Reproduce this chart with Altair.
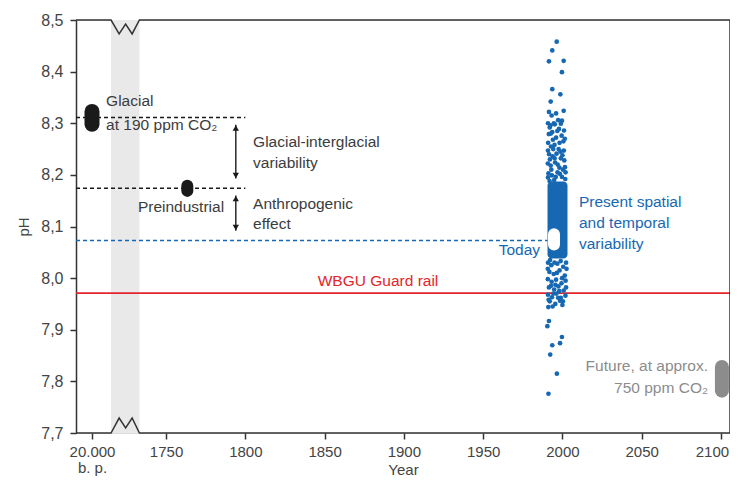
import altair as alt
import pandas as pd

FONT = "Liberation Sans"
DARK = "#333333"
TEXT = "#3c3c3c"
BLUE = "#1668b3"
RED = "#e3242b"
GREY = "#8c8c8c"

# ---- scales ----
YEAR_MIN, YEAR_MAX = 1693.2, 2105.7
PH_MIN, PH_MAX = 7.7, 8.5
BP_POS = 1703.3  # position of the "20.000 b. p." tick

x_ticks = [BP_POS, 1750, 1800, 1850, 1900, 1950, 2000, 2050, 2100]
y_ticks = [7.7, 7.8, 7.9, 8.0, 8.1, 8.2, 8.3, 8.4, 8.5]

# ---- axis break ----
band_years = [1715.3, 1733.2]
edge_years = [YEAR_MIN, 1715.3, 1720.4, 1724.5, 1728.6, 1733.2, YEAR_MAX]
top_edge_ph = [8.5, 8.5, 8.473, 8.492, 8.473, 8.5, 8.5]
bottom_edge_ph = [7.7, 7.7, 7.729, 7.710, 7.729, 7.7, 7.7]

# ---- reference levels ----
glacial_ph = 8.311
preindustrial_ph = 8.174
today_ph = 8.073
guardrail_ph = 7.971
dash_end_year = 1800
today_line_end = 1990.6

# ---- markers (capsules): year, pH from, pH to, width, colour ----
capsule_names = ["glacial", "preindustrial", "today", "future"]
capsule_years = [1703.3, 1763.4, 1994.7, 2100.6]
capsule_lo = [8.298, 8.169, 8.065, 7.782]
capsule_hi = [8.323, 8.179, 8.085, 7.828]
capsule_width = [15, 12, 12, 14]
capsule_color = ["#1a1a1a", "#1a1a1a", "#ffffff", GREY]

# ---- double arrows ----
arrow_year = 1794
arrow_top = [8.297, 8.160]
arrow_bottom = [8.193, 8.092]

# ---- present variability: dense core + individual observations ----
core_years = [1990.6, 2003.2]
core_ph = [8.038, 8.187]

present_years = [
    1996.4, 1993.6, 1991.5, 2000.8, 1999.7, 1993.6, 1998.7, 1992.6, 1991.5, 2000.8, 1999.7,
    1990.9, 1992.5, 1995.2, 1997.8, 2001.0, 1991.4, 1993.6, 1996.0, 1999.5, 2000.6,
    1991.0, 1992.8, 1995.0, 1997.6, 2000.9, 1991.6, 1993.9, 1996.3, 1999.0, 2001.2,
    1990.8, 1992.6, 1995.4, 1998.1, 2000.4, 1991.2, 1993.4, 1996.9, 1999.7, 2001.8,
    1994.8, 1991.9,
    1992.0, 1996.8, 1999.0, 1994.0, 1998.2, 2001.5, 1990.9, 1994.2, 1998.8, 1992.1,
    1995.1, 2000.0, 1993.0, 1997.0, 2001.6, 1990.9, 1995.8, 1998.4, 2002.0, 1992.7,
    1994.6, 1997.3, 1993.2, 1996.0,
    1990.9, 1993.0, 1996.8, 2000.5, 2002.3, 1991.8, 1994.5, 1998.2, 2001.5,
    1990.8, 1993.2, 1996.0, 1999.4, 2002.0, 1991.5, 1994.8, 1997.5, 2000.8,
    1990.9, 1993.4, 1996.2, 1999.0, 2001.9, 1992.0, 1995.5, 1998.5,
    1992.2, 1995.0, 1998.9, 2002.6, 1990.8, 1996.5, 1999.8, 1992.8, 1995.6, 2002.3,
    1998.0, 1991.3, 1994.3, 2000.3, 1997.3, 1993.8, 2000.0,
    1991.1, 1991.5, 1990.5, 1999.7, 1998.5, 1993.6, 1992.3, 1996.5, 1991.2,
]
present_ph = [
    8.458, 8.441, 8.420, 8.421, 8.399, 8.366, 8.356, 8.342, 8.322, 8.324, 8.305,
    8.300, 8.296, 8.298, 8.289, 8.286, 8.279, 8.283, 8.272, 8.276, 8.265,
    8.262, 8.255, 8.258, 8.250, 8.247, 8.240, 8.236, 8.241, 8.232, 8.228,
    8.222, 8.218, 8.224, 8.214, 8.210, 8.203, 8.199, 8.205, 8.196, 8.192,
    8.190, 8.188,
    8.292, 8.285, 8.299, 8.268, 8.262, 8.270, 8.247, 8.250, 8.245, 8.230,
    8.232, 8.238, 8.210, 8.220, 8.215, 8.195, 8.196, 8.202, 8.205, 8.280,
    8.300, 8.306, 8.315, 8.319,
    8.030, 8.025, 8.028, 8.022, 8.030, 8.012, 8.008, 8.015, 8.005,
    7.998, 7.993, 7.997, 7.990, 7.995, 7.982, 7.978, 7.984, 7.976,
    7.968, 7.963, 7.970, 7.962, 7.966, 7.955, 7.950, 7.956,
    8.035, 8.030, 8.033, 8.018, 8.018, 8.010, 8.000, 7.985, 7.987, 7.982,
    7.975, 7.958, 7.970, 7.955, 7.962, 7.945, 7.948,
    7.944, 7.917, 7.907, 7.886, 7.874, 7.870, 7.852, 7.815, 7.776,
]

# ---- annotations ----
label_text = [
    "Glacial", "at 190 ppm CO\u2082",
    "Glacial-interglacial", "variability", "Anthropogenic", "effect",
    "Present spatial", "and temporal", "variability",
    "Preindustrial", "Today", "Future, at approx.", "750 ppm CO\u2082",
    "WBGU Guard rail",
]
label_year = [1712.2, 1712.2, 1804.9, 1804.9, 1804.9, 1804.9, 2010.4, 2010.4, 2010.4,
              1786.6, 1985.9, 2091.8, 2091.8, 1883.7]
label_ph = [8.343, 8.297, 8.264, 8.223, 8.144, 8.104, 8.148, 8.106, 8.066,
            8.137, 8.054, 7.830, 7.788, 7.994]
label_align = ["left"] * 9 + ["right"] * 4 + ["center"]
label_color = [TEXT] * 6 + [BLUE] * 3 + [TEXT, BLUE, GREY, GREY, RED]

# ---------------------------------------------------------------------------
PLOT_W, PLOT_H = 654, 413

xscale = alt.Scale(domain=[YEAR_MIN, YEAR_MAX], nice=False, zero=False)
yscale = alt.Scale(domain=[PH_MIN, PH_MAX], nice=False, zero=False)

xaxis = alt.Axis(
    values=x_ticks, title="Year", grid=False, domain=False,
    labelExpr="datum.value < 1710 ? ['20.000', 'b. p.'] : format(datum.value, 'd')",
    tickSize=6, tickWidth=1.5, tickColor=DARK, labelPadding=5,
    labelFont=FONT, labelFontSize=15, labelColor="#444444", labelLineHeight=16.5,
    labelOffset={"condition": {"test": "datum.value == 2100", "value": -9}, "value": 0},
    labelFlush=False, labelOverlap=False,
    titleFont=FONT, titleFontSize=15, titleFontWeight="normal", titleColor="#444444",
    titleY=41, titleBaseline="alphabetic",
)
yaxis = alt.Axis(
    values=y_ticks, title="pH", grid=False, domain=True, domainColor=DARK, domainWidth=1.5,
    labelExpr="replace(format(datum.value, '.1f'), '.', ',')",
    tickSize=6, tickWidth=1.5, tickColor=DARK, labelPadding=7,
    labelFont=FONT, labelFontSize=16, labelColor="#444444", labelFlush=False,
    labelOverlap=False,
    titleFont=FONT, titleFontSize=15, titleFontWeight="normal", titleColor="#444444",
    titleX=-53, titleY=PLOT_H / 2, titleBaseline="middle", titleAlign="center", titleAngle=-90,
)


def X(field="x"):
    return alt.X(field, type="quantitative", scale=xscale, axis=xaxis)


def Y(field="y"):
    return alt.Y(field, type="quantitative", scale=yscale, axis=yaxis)


band_df = pd.DataFrame({"x": [band_years[0]], "x2": [band_years[1]], "y": [PH_MIN], "y2": [PH_MAX]})
band = alt.Chart(band_df).mark_rect(color="#e9e9e9").encode(
    x=X(), x2="x2", y=Y(), y2="y2")


def hline(level, end, color, dash=None, width=1.5):
    df = pd.DataFrame({"x": [YEAR_MIN], "x2": [end], "y": [level]})
    kw = dict(color=color, strokeWidth=width)
    if dash:
        kw["strokeDash"] = dash
    return alt.Chart(df).mark_rule(**kw).encode(x=X(), x2="x2", y=Y())


glacial_line = hline(glacial_ph, dash_end_year, "#1a1a1a", [4, 3])
pre_line = hline(preindustrial_ph, dash_end_year, "#1a1a1a", [4, 3])
today_line = hline(today_ph, today_line_end, BLUE, [4, 3])
red_line = hline(guardrail_ph, YEAR_MAX, RED, None, 1.6)

edges_df = pd.DataFrame({
    "x": edge_years * 2,
    "y": top_edge_ph + bottom_edge_ph,
    "side": ["top"] * len(edge_years) + ["bottom"] * len(edge_years),
})
edges = alt.Chart(edges_df).mark_line(color=DARK, strokeWidth=1.5, strokeJoin="miter").encode(
    x=X(), y=Y(), detail="side:N")

right_edge = alt.Chart(pd.DataFrame({"x": [YEAR_MAX], "y": [PH_MIN], "y2": [PH_MAX]})).mark_rule(
    color=DARK, strokeWidth=1.5).encode(x=X(), y=Y(), y2="y2")

core_df = pd.DataFrame({"x": [core_years[0]], "x2": [core_years[1]], "y": [core_ph[0]], "y2": [core_ph[1]]})
core = alt.Chart(core_df).mark_rect(color=BLUE, cornerRadius=4).encode(
    x=X(), x2="x2", y=Y(), y2="y2")

pts_df = pd.DataFrame({"x": present_years, "y": present_ph})
pts = alt.Chart(pts_df).mark_circle(color=BLUE, size=22, opacity=1).encode(x=X(), y=Y())

caps = []
for i in range(len(capsule_names)):
    df = pd.DataFrame({"x": [capsule_years[i]], "y": [capsule_lo[i]], "y2": [capsule_hi[i]]})
    caps.append(alt.Chart(df).mark_rule(
        color=capsule_color[i], strokeWidth=capsule_width[i], strokeCap="round").encode(
        x=X(), y=Y(), y2="y2"))

arr_df = pd.DataFrame({"x": [arrow_year] * 2, "y": arrow_bottom, "y2": arrow_top})
arr_rules = alt.Chart(arr_df).mark_rule(color="#1a1a1a", strokeWidth=1.4).encode(
    x=X(), y=Y(), y2="y2")
up_df = pd.DataFrame({"x": [arrow_year] * 2, "y": [t - 0.006 for t in arrow_top]})
down_df = pd.DataFrame({"x": [arrow_year] * 2, "y": [b + 0.006 for b in arrow_bottom]})
heads_up = alt.Chart(up_df).mark_point(shape="triangle-up", filled=True, color="#1a1a1a",
                                       size=40, opacity=1).encode(x=X(), y=Y())
heads_down = alt.Chart(down_df).mark_point(shape="triangle-down", filled=True, color="#1a1a1a",
                                           size=40, opacity=1).encode(x=X(), y=Y())

lab_df = pd.DataFrame({"x": label_year, "y": label_ph, "text": label_text,
                       "align": label_align, "color": label_color})
texts = []
for al in ["left", "right", "center"]:
    texts.append(alt.Chart(lab_df).transform_filter(alt.datum.align == al).mark_text(
        align=al, baseline="middle", font=FONT, fontSize=15.5).encode(
        x=X(), y=Y(), text="text:N", color=alt.Color("color:N", scale=None)))

chart = alt.layer(
    band, glacial_line, pre_line, today_line, red_line, edges, right_edge,
    core, pts, *caps, arr_rules, heads_up, heads_down, *texts,
).properties(
    width=PLOT_W, height=PLOT_H, autosize="none",
    padding={"left": 68, "top": 12, "right": 0, "bottom": 45},
).configure_view(stroke=None).configure(font=FONT)

chart.save("out.html", embed_options={"renderer": "svg", "actions": False})
